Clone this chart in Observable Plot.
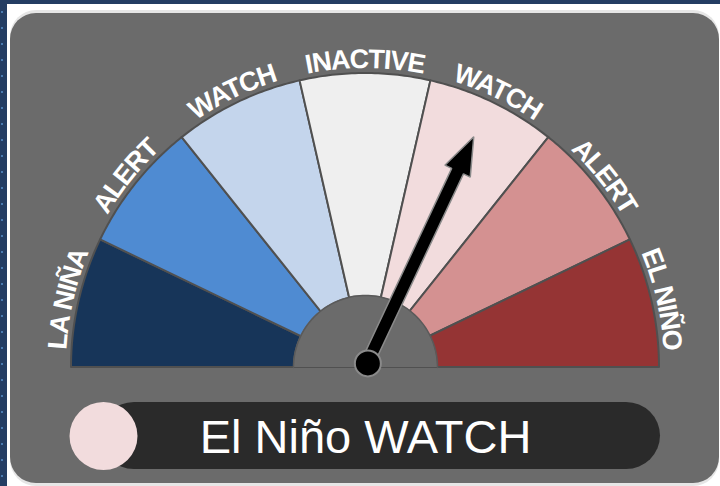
<!DOCTYPE html>
<html><head><meta charset="utf-8">
<script src="https://cdn.jsdelivr.net/npm/d3@7"></script>
<script src="https://cdn.jsdelivr.net/npm/@observablehq/plot@0.6"></script>
<style>
html,body{margin:0;padding:0;width:720px;height:486px;overflow:hidden;background:#243d63;}
#dots{position:absolute;left:0;top:0;width:7px;height:486px;background-image:radial-gradient(circle at 50% 50%, #4b7bb0 0.9px, rgba(0,0,0,0) 1.5px);background-size:6px 16px;background-position:-1px 4px;}
#frame{position:absolute;left:7px;top:4px;width:713px;height:482px;background:#fff;}
#shade{position:absolute;left:10px;top:10px;width:709px;height:476px;border-radius:26px;background:#e6e6e6;}
#panel{position:absolute;left:10px;top:13px;width:709px;height:470px;border-radius:26px;background:#6b6b6b;}
#chart{position:absolute;left:0;top:0;}
</style></head><body>
<div id="dots"></div><div id="frame"></div><div id="shade"></div><div id="panel"></div>
<div id="chart"></div>
<script>
// ---- data ----
const categories = ["LA NIÑA", "ALERT", "WATCH", "INACTIVE", "WATCH", "ALERT", "EL NIÑO"];
const sectorColors = ["#173559", "#4f8bd2", "#c4d5ec", "#efefef", "#f2dcdd", "#d49191", "#953434"];
const needleValue = 4.48;          // position on the 0..7 category scale
const statusText = "El Niño WATCH";
const statusColor = "#f2dcdd";

// ---- layout (gauge units: outer radius = 1) ----
const W = 720, H = 486, k = 294, cx = 365, cy = 367;
const n = categories.length;
const ang = v => Math.PI * (1 - v / n);
const R = 1, hubR = 0.245, labelR = 1.017;
const FONT = "'Liberation Sans', Arial, Helvetica, sans-serif";

const sectors = categories.flatMap((c, i) => d3.range(0, 41).map(j => {
  const a = ang(i + j / 40);
  return {key: i, color: sectorColors[i], x1: R * Math.cos(a), y1: R * Math.sin(a), x2: 0, y2: 0};
}));
const hub = d3.range(0, 81).map(j => {
  const a = Math.PI * (1 - j / 80);
  return {x1: hubR * Math.cos(a), y1: hubR * Math.sin(a), x2: 0, y2: 0};
});

// needle polygon
const pivot = {x: 0.008, y: 0.014};
const th = ang(needleValue);
const L = 0.85, hs = 6.5 / k, hh = 14 / k, hl = 38 / k;
const ux = Math.cos(th), uy = Math.sin(th), nx = -Math.sin(th), ny = Math.cos(th);
const along = [0, L - hl, L - hl, L];
const half = [hs, hs, hh, 0];
const needle = along.map((t, i) => ({
  x1: pivot.x + ux * t + nx * half[i], y1: pivot.y + uy * t + ny * half[i],
  x2: pivot.x + ux * t - nx * half[i], y2: pivot.y + uy * t - ny * half[i]
}));

const pill = {x1: (100 - cx) / k, x2: (660 - cx) / k, y1: (cy - 469) / k, y2: (cy - 402) / k};
const status = {x: (103 - cx) / k, y: (cy - 435.5) / k, text: statusText};

const plot = Plot.plot({
  width: W, height: H, margin: 0,
  x: {domain: [-cx / k, (W - cx) / k], axis: null},
  y: {domain: [-(H - cy) / k, cy / k], axis: null},
  color: {type: "identity"},
  style: {background: "transparent", overflow: "visible"},
  marks: [
    Plot.area(sectors, {x1: "x1", y1: "y1", x2: "x2", y2: "y2", z: "key", fill: "color",
      stroke: "#505050", strokeWidth: 2, strokeLinejoin: "round"}),
    Plot.area(hub, {x1: "x1", y1: "y1", x2: "x2", y2: "y2", fill: "#6b6b6b"}),
    Plot.line(hub, {x: "x1", y: "y1", stroke: "#5a5a5a", strokeWidth: 1.5}),
    Plot.rect([pill], {x1: "x1", x2: "x2", y1: "y1", y2: "y2", rx: 34, fill: "#2a2a2a"}),
    Plot.dot([status], {x: "x", y: "y", r: 34, fill: statusColor}),
    Plot.text([status], {x: 0, y: "y", text: "text", fill: "white", fontSize: 47,
      fontFamily: FONT, lineAnchor: "middle", dy: 2}),
    Plot.area(needle, {x1: "x1", y1: "y1", x2: "x2", y2: "y2", fill: "black",
      stroke: "#8a8a8a", strokeWidth: 1.5, strokeLinejoin: "miter"}),
    Plot.dot([pivot], {x: "x", y: "y", r: 13, fill: "black", stroke: "#8a8a8a", strokeWidth: 2})
  ]
});

// curved category labels, positioned through the plot's scales
const sx = plot.scale("x"), sy = plot.scale("y");
const x0 = sx.apply(0), y0 = sy.apply(0);
const rx = sx.apply(labelR) - x0, ry = y0 - sy.apply(labelR);
const svg = d3.select(plot);
svg.append("defs").append("path").attr("id", "labelArc")
  .attr("d", `M${x0 - rx},${y0} A${rx},${ry} 0 0 1 ${x0 + rx},${y0}`);
const g = svg.append("g").attr("font-family", FONT).attr("font-size", 27)
  .attr("font-weight", "bold").attr("letter-spacing", "-1.2px").attr("fill", "white");
categories.forEach((c, i) => {
  g.append("text").append("textPath")
    .attr("href", "#labelArc")
    .attr("startOffset", `${(i + 0.5) / n * 100}%`)
    .attr("text-anchor", "middle")
    .text(c);
});

document.getElementById("chart").appendChild(plot);
</script>
</body></html>
